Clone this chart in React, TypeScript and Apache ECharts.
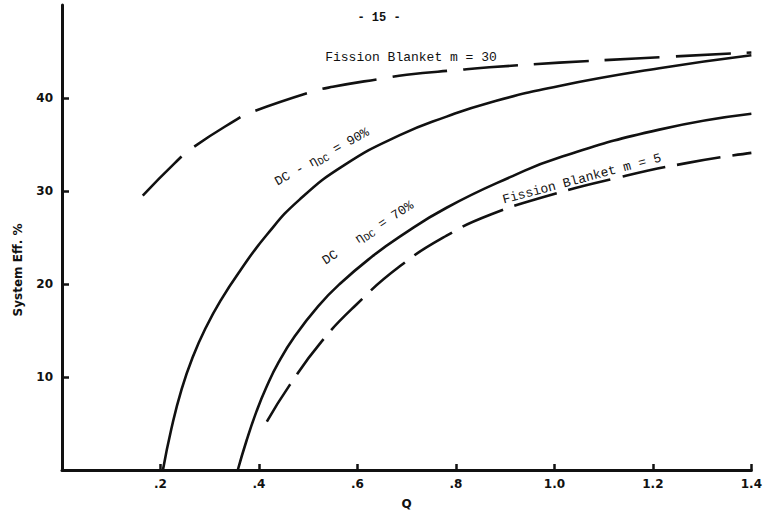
import React, { useEffect, useRef } from "react";
import * as echarts from "echarts";

// Q values and system efficiency (%) for each curve
const q30 = [0.164, 0.229, 0.264, 0.355, 0.381, 0.503, 0.55, 0.651, 0.7, 0.801, 0.868, 1.01, 1.112, 1.219, 1.4];
const eff30 = [29.5, 33.0, 34.6, 37.7, 38.4, 40.6, 41.2, 42.1, 42.5, 43.0, 43.3, 43.8, 44.1, 44.4, 44.9];

const q90 = [0.205, 0.222, 0.243, 0.266, 0.292, 0.323, 0.36, 0.416, 0.483, 0.574, 0.686, 0.781, 0.868, 1.01, 1.213, 1.4];
const eff90 = [0, 4.4, 8.7, 12.2, 15.3, 18.3, 21.3, 25.3, 29.1, 32.8, 36.0, 38.0, 39.5, 41.3, 43.2, 44.6];

const q70 = [0.357, 0.375, 0.395, 0.415, 0.44, 0.473, 0.52, 0.564, 0.631, 0.686, 0.781, 0.915, 1.01, 1.213, 1.4];
const eff70 = [0, 3.2, 6.3, 8.9, 11.6, 14.4, 17.6, 20.0, 23.0, 25.1, 28.2, 31.6, 33.6, 36.6, 38.3];

const q5 = [0.416, 0.462, 0.527, 0.598, 0.686, 0.781, 0.872, 0.994, 1.126, 1.268, 1.4];
const eff5 = [5.2, 9.1, 13.8, 17.8, 21.9, 25.2, 27.5, 29.6, 31.4, 33.0, 34.1];

const xTicks = [0.2, 0.4, 0.6, 0.8, 1.0, 1.2, 1.4];
const xTickLabels = [".2", ".4", ".6", ".8", "1.0", "1.2", "1.4"];
const yTicks = [10, 20, 30, 40];

const zip = (xs: number[], ys: number[]) => xs.map((x, i) => [x, ys[i]]);

export default function App() {
  const ref = useRef<HTMLDivElement>(null);
  useEffect(() => {
    document.body.style.margin = "0";
    const chart = echarts.init(ref.current!, null, { renderer: "svg" });
    const mono = "Liberation Mono";
    const ink = "#111";
    const deg = Math.PI / 180;
    const lineBase = { type: "line", smooth: 0.5, showSymbol: false, symbol: "none" };
    chart.setOption({
      animation: false,
      backgroundColor: "#fff",
      grid: { left: 62, right: 13, top: 5, bottom: 36, containLabel: false },
      xAxis: {
        type: "value",
        min: 0,
        max: 1.4,
        interval: 0.2,
        name: "Q",
        nameLocation: "middle",
        nameGap: 28,
        nameTextStyle: { color: ink, fontFamily: "DejaVu Sans", fontWeight: "bold", fontSize: 12 },
        axisLine: { lineStyle: { color: ink, width: 3 } },
        axisTick: { inside: true, length: 6, lineStyle: { color: ink, width: 2.5 }, customValues: xTicks },
        splitLine: { show: false },
        axisLabel: {
          color: ink,
          fontFamily: "DejaVu Sans",
          fontWeight: "bold",
          fontSize: 12,
          margin: 8,
          customValues: xTicks,
          formatter: (v: number) => {
            const i = xTicks.findIndex((t) => Math.abs(t - v) < 1e-6);
            return i >= 0 ? xTickLabels[i] : "";
          },
        },
      },
      yAxis: {
        type: "value",
        min: 0,
        max: 50,
        interval: 10,
        axisLine: { show: true, lineStyle: { color: ink, width: 3 } },
        axisTick: { show: true, inside: true, length: 7, lineStyle: { color: ink, width: 2.5 }, customValues: yTicks },
        splitLine: { show: false },
        axisLabel: {
          color: ink,
          fontFamily: "DejaVu Sans",
          fontWeight: "bold",
          fontSize: 12,
          margin: 9,
          customValues: yTicks,
          formatter: (v: number) => (yTicks.includes(v) ? String(v) : ""),
        },
      },
      series: [
        { ...lineBase, name: "Fission Blanket m = 30", data: zip(q30, eff30), lineStyle: { color: ink, width: 2.6, type: [55, 16] } },
        { ...lineBase, name: "DC 90%", data: zip(q90, eff90), lineStyle: { color: ink, width: 2.6 } },
        { ...lineBase, name: "DC 70%", data: zip(q70, eff70), lineStyle: { color: ink, width: 2.6 } },
        { ...lineBase, name: "Fission Blanket m = 5", data: zip(q5, eff5), lineStyle: { color: ink, width: 2.6, type: [44, 12] } },
      ],
      graphic: [
        {
          type: "text", x: 379, y: 18,
          style: { text: "- 15 -", fontFamily: mono, fontSize: 12, fontWeight: "bold", fill: ink, align: "center", verticalAlign: "middle" },
        },
        {
          type: "text", x: 411, y: 57,
          style: { text: "Fission Blanket m = 30", fontFamily: mono, fontSize: 13, fill: ink, align: "center", verticalAlign: "middle" },
        },
        {
          type: "text", x: 18, y: 270, rotation: Math.PI / 2,
          style: { text: "System Eff. %", fontFamily: "DejaVu Sans", fontWeight: "bold", fontSize: 12, fill: ink, align: "center", verticalAlign: "middle" },
        },
        {
          type: "text", x: 322, y: 157, rotation: 29 * deg,
          style: {
            text: "DC - η{s|DC} = 90%",
            rich: { s: { fontFamily: mono, fontSize: 10, fill: ink, padding: [7, 0, 0, 0] } },
            fontFamily: mono, fontSize: 13, fill: ink, align: "center", verticalAlign: "middle",
          },
        },
        {
          type: "text", x: 368, y: 233, rotation: 33 * deg,
          style: {
            text: "DC   η{s|DC} = 70%",
            rich: { s: { fontFamily: mono, fontSize: 10, fill: ink, padding: [7, 0, 0, 0] } },
            fontFamily: mono, fontSize: 13, fill: ink, align: "center", verticalAlign: "middle",
          },
        },
        {
          type: "text", x: 582, y: 179, rotation: 15 * deg,
          style: { text: "Fission Blanket m = 5", fontFamily: mono, fontSize: 13, fill: ink, align: "center", verticalAlign: "middle" },
        },
      ],
    });
    return () => chart.dispose();
  }, []);
  return <div ref={ref} style={{ width: 765, height: 515 }} />;
}
